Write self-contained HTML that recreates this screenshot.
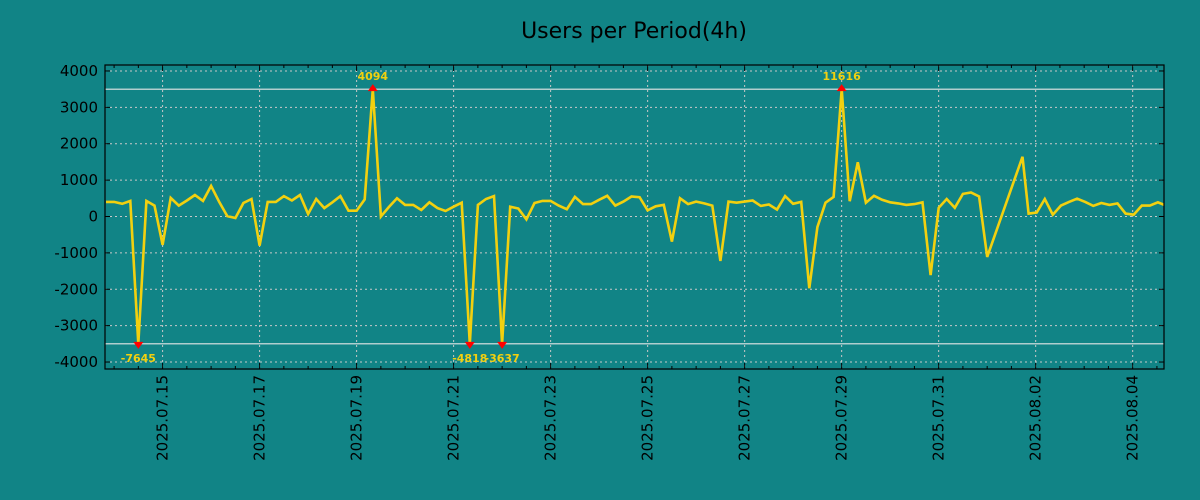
<!DOCTYPE html>
<html><head><meta charset="utf-8"><style>
html,body{margin:0;padding:0;background:#118486;}
svg{display:block;font-family:"DejaVu Sans","Liberation Sans",sans-serif;}
</style></head><body>
<svg id="chart" width="1200" height="500" viewBox="0 0 1200 500" xmlns="http://www.w3.org/2000/svg">
<rect x="0" y="0" width="1200" height="500" fill="#118486"/>
<text x="634" y="38" text-anchor="middle" font-size="22" fill="#000">Users per Period(4h)</text>
<defs><clipPath id="pc"><rect x="105" y="65" width="1059" height="304"/></clipPath></defs>
<g id="grid"></g><g id="plot" clip-path="url(#pc)"></g><g id="axes"></g><g id="marks"></g>
</svg>
<script>
// data: values every 4h starting 2025-07-13 20:00 (hours relative to 2025-07-15 00:00)
const seg1Values = [400,400,350,430,-7645,430,300,-780,510,300,440,590,430,840,400,10,-40,370,480,-800,400,400,560,440,590,70,480,230,390,560,160,160,470,4094,
0,260,500,320,320,180,390,230,150,270,380,-4818,320,480,560,-3637,270,220,-80,370,430,430,300,200,540,340,340,460,570,300,410,550,
530,170,280,320,-690,500,340,410,360,300,-1220,410,380,410,440,290,330,190,560,350,400,-1970,-290,380,540,11616,420,1490,380,570,460,390,
360,320,340,390,-1610,240,480,240,620,660,550,-1110];
const seg1Start = -28;
const gapPointTime = 425.5;
const gapPointValue = 1640;
const seg2Values = [80,110,480,50,300,400,490,400,290,370,320,360,80,50,300,300,390,300];
const seg2Start = 428.5;
const stepHours = 4;
const yTicks = [4000,3000,2000,1000,0,-1000,-2000,-3000,-4000];
const xTickLabels = ["2025.07.15","2025.07.17","2025.07.19","2025.07.21","2025.07.23","2025.07.25","2025.07.27","2025.07.29","2025.07.31","2025.08.02","2025.08.04"];
const clipLimit = 3500;

const L=105,R=1164,T=65,B=369;
const xMin=-28.5,xMax=495.5;
const X=h=>L+(h-xMin)/(xMax-xMin)*(R-L);
const Y=v=>216.5-v*0.03638;
const NS="http://www.w3.org/2000/svg";
function mk(tag,attrs,parent){const e=document.createElementNS(NS,tag);for(const k in attrs)e.setAttribute(k,attrs[k]);parent.appendChild(e);return e;}
const grid=document.getElementById('grid'),plot=document.getElementById('plot'),axes=document.getElementById('axes'),marks=document.getElementById('marks');

const pts=[];
seg1Values.forEach((v,i)=>pts.push([seg1Start+stepHours*i,v]));
pts.push([gapPointTime,gapPointValue]);
seg2Values.forEach((v,i)=>pts.push([seg2Start+stepHours*i,v]));

// grid
yTicks.forEach(v=>{
  const y=Y(v);
  const g=mk('line',{x1:L,x2:R,y1:y,y2:y,stroke:'#c8c8c8','stroke-width':1,'stroke-dasharray':'2,3'},grid);
  
  
  const t1=mk('line',{x1:L,x2:L+5,y1:y,y2:y,stroke:'#000'},axes);
  
  
  const t2=mk('line',{x1:R-5,x2:R,y1:y,y2:y,stroke:'#000'},axes);
  
  
  const tx=mk('text',{x:98,y:y+5,'text-anchor':'end','font-size':15,fill:'#000'},axes);
  tx.textContent=v;
  
  
});
xTickLabels.forEach((lab,i)=>{
  const x=X(i*48);
  const g=mk('line',{x1:x,x2:x,y1:T,y2:B,stroke:'#c8c8c8','stroke-width':1,'stroke-dasharray':'2,3'},grid);
  
  
  const t1=mk('line',{x1:x,x2:x,y1:B-6,y2:B,stroke:'#000'},axes);
  
  
  const t2=mk('line',{x1:x,x2:x,y1:T,y2:T+6,stroke:'#000'},axes);
  
  
  const tx=mk('text',{x:0,y:0,'text-anchor':'end','font-size':15,fill:'#000',transform:`translate(${x+5},375) rotate(-90)`},axes);
  tx.textContent=lab;
  
  
});
for(let h=-24;h<xMax;h+=12){
  if(h%48===0)continue;
  const x=X(h);
  const m1=mk('line',{x1:x,x2:x,y1:B-3,y2:B,stroke:'#000'},axes);
  
  
  const m2=mk('line',{x1:x,x2:x,y1:T,y2:T+3,stroke:'#000'},axes);
  
  
}
// threshold lines
[clipLimit,-clipLimit].forEach(v=>{
  const l=mk('line',{x1:L,x2:R,y1:Y(v),y2:Y(v),stroke:'#e6e6e6','stroke-width':1.2},grid);
  
  
});
// series
const cl=v=>Math.max(-clipLimit,Math.min(clipLimit,v));
const d=pts.map((p,i)=>(i?'L':'M')+X(p[0]).toFixed(1)+','+Y(cl(p[1])).toFixed(1)).join('');
const line=mk('path',{d:d,fill:'none',stroke:'#f2d00f','stroke-width':2.6,'stroke-linejoin':'miter'},plot);


// clipped markers
pts.forEach(p=>{
  if(Math.abs(p[1])<=clipLimit)return;
  const x=X(p[0]);
  if(p[1]>0){
    const y=Y(clipLimit);
    const tri=mk('polygon',{points:`${x-5},${y+2} ${x+5},${y+2} ${x},${y-5}`,fill:'#ff0000'},marks);
    
    
    const tx=mk('text',{x:x,y:y-9,'text-anchor':'middle','font-size':11,'font-weight':'bold',fill:'#f2d00f'},marks);
    tx.textContent=p[1];
    
    
  }else{
    const y=Y(-clipLimit);
    const tri=mk('polygon',{points:`${x-5},${y-2} ${x+5},${y-2} ${x},${y+5}`,fill:'#ff0000'},marks);
    
    
    const tx=mk('text',{x:x,y:y+18,'text-anchor':'middle','font-size':11,'font-weight':'bold',fill:'#f2d00f'},marks);
    tx.textContent=p[1];
    
    
  }
});
const frame=mk('rect',{x:L,y:T,width:R-L,height:B-T,fill:'none',stroke:'#000','stroke-width':1.2},axes);


</script>
</body></html>
